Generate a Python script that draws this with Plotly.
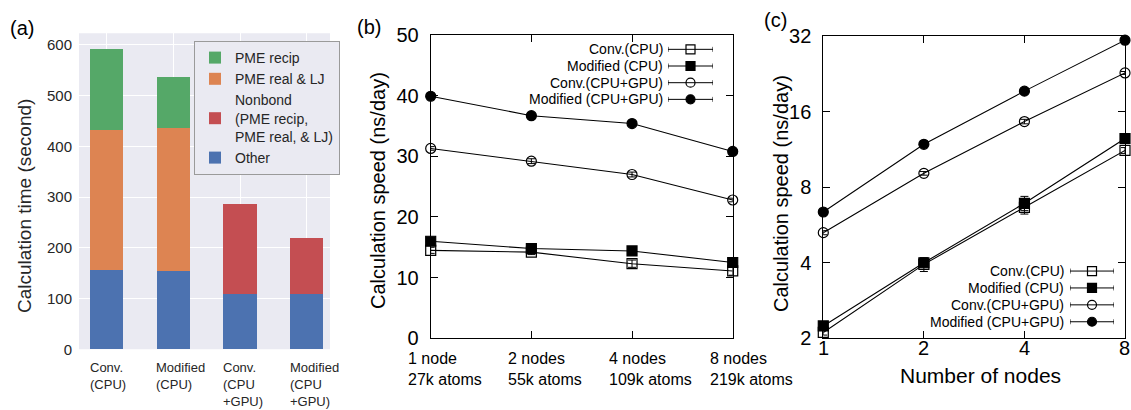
import math
import plotly.graph_objects as go

W, H = 1131, 410

# ---------------- data ----------------
# panel (a)
cat_a = ["Conv.<br>(CPU)", "Modified<br>(CPU)", "Conv.<br>(CPU<br>+GPU)", "Modified<br>(CPU<br>+GPU)"]
other = [156, 154, 110, 110]
pme_real_lj = [276, 283, None, None]
pme_recip = [161, 100, None, None]
nonbond = [None, None, 176, 110]

# panel (b)
cat_b = ["1 node<br>27k atoms", "2 nodes<br>55k atoms", "4 nodes<br>109k atoms", "8 nodes<br>219k atoms"]
conv_cpu_b = [14.5, 14.2, 12.3, 11.1]
mod_cpu_b = [16.0, 14.8, 14.4, 12.5]
conv_gpu_b = [31.3, 29.2, 27.0, 22.8]
mod_gpu_b = [39.9, 36.7, 35.4, 30.8]
err_conv_cpu_b = [0.5, 0.4, 0.6, 0.7]
err_mod_cpu_b = [0.3, 0.3, 0.3, 0.3]
err_conv_gpu_b = [0.3, 0.4, 0.4, 0.3]
err_mod_gpu_b = [0.2, 0.2, 0.2, 0.2]

# panel (c)
nodes = [1, 2, 4, 8]
conv_cpu_c = [2.11, 3.94, 6.65, 11.2]
mod_cpu_c = [2.24, 4.0, 6.9, 12.5]
conv_gpu_c = [5.27, 9.08, 14.6, 22.8]
mod_gpu_c = [6.37, 11.85, 19.3, 30.8]
err_conv_cpu_c = [0.05, 0.25, 0.4, 0.3]
err_mod_cpu_c = [0.05, 0.15, 0.45, 0.3]
err_conv_gpu_c = [0.1, 0.15, 0.3, 0.3]
err_mod_gpu_c = [0.1, 0.1, 0.2, 0.3]
yticks_c = [2, 4, 8, 16, 32]

series_names = ["Conv.(CPU)", "Modified (CPU)", "Conv.(CPU+GPU)", "Modified (CPU+GPU)"]
symbols = ["square-open", "square", "circle-open", "circle"]

C_BLUE, C_ORANGE, C_GREEN, C_RED = "#4c72b0", "#dd8452", "#55a868", "#c44e52"
TXT = "#262626"
SANS = "Liberation Sans, Arial, sans-serif"


def px_x(p):
    return p / W


def px_y(p):
    return 1 - p / H


fig = go.Figure()

# ---------------- panel (a) stacked bars ----------------
xa = list(range(len(cat_a)))
bar_specs = [
    ("Other", other, C_BLUE, 4),
    ("PME real & LJ", pme_real_lj, C_ORANGE, 2),
    ("Nonbond<br>(PME recip,<br>PME real, & LJ)", nonbond, C_RED, 3),
    ("PME recip", pme_recip, C_GREEN, 1),
]
for name, vals, col, rank in bar_specs:
    fig.add_trace(go.Bar(
        x=xa, y=vals, name=name, marker=dict(color=col, line=dict(width=0)),
        width=0.5, xaxis="x", yaxis="y", legendrank=rank, showlegend=True,
    ))

# ---------------- panel (b) ----------------
xb = list(range(len(cat_b)))
b_series = [(conv_cpu_b, err_conv_cpu_b), (mod_cpu_b, err_mod_cpu_b),
            (conv_gpu_b, err_conv_gpu_b), (mod_gpu_b, err_mod_gpu_b)]
for (vals, err), sym, name in zip(b_series, symbols, series_names):
    fig.add_trace(go.Scatter(
        x=xb, y=vals, name=name, mode="lines+markers", xaxis="x2", yaxis="y2",
        line=dict(color="black", width=1.1),
        marker=dict(symbol=sym, size=10, color="black", line=dict(color="black", width=1.2)),
        error_y=dict(type="data", array=err, color="black", thickness=1, width=4),
        cliponaxis=False, showlegend=False,
    ))

# ---------------- panel (c) ----------------
c_series = [(conv_cpu_c, err_conv_cpu_c), (mod_cpu_c, err_mod_cpu_c),
            (conv_gpu_c, err_conv_gpu_c), (mod_gpu_c, err_mod_gpu_c)]
for (vals, err), sym, name in zip(c_series, symbols, series_names):
    fig.add_trace(go.Scatter(
        x=nodes, y=vals, name=name, mode="lines+markers", xaxis="x3", yaxis="y3",
        line=dict(color="black", width=1.1),
        marker=dict(symbol=sym, size=10, color="black", line=dict(color="black", width=1.2)),
        error_y=dict(type="data", array=err, color="black", thickness=1, width=4),
        cliponaxis=False, showlegend=False,
    ))

# ---------------- gnuplot-style keys for (b) and (c) ----------------
legend_rows = list(range(len(series_names)))
for xax, yax in [("x4", "y4"), ("x5", "y5")]:
    for i in legend_rows:
        fig.add_trace(go.Scatter(
            x=[0.5], y=[i], mode="markers", xaxis=xax, yaxis=yax,
            marker=dict(symbol=symbols[i], size=9, color="black",
                        line=dict(color="black", width=1.2)),
            error_x=dict(type="data", array=[0.5], color="black", thickness=1, width=2.5),
            cliponaxis=False, showlegend=False, hoverinfo="skip",
        ))

hidden = dict(visible=False, fixedrange=True)
box_common = dict(showline=True, linecolor="black", linewidth=1, mirror="ticks",
                  ticks="inside", ticklen=7, tickcolor="black", showgrid=False,
                  zeroline=False, automargin=False,
                  tickfont=dict(family=SANS, size=20, color="black"))

fig.update_layout(
    width=W, height=H, margin=dict(l=0, r=0, t=0, b=0, pad=0, autoexpand=False), autosize=False,
    paper_bgcolor="white", plot_bgcolor="white",
    barmode="stack",
    showlegend=True,
    legend=dict(
        x=px_x(194), y=px_y(41), xanchor="left", yanchor="top",
        bgcolor="#eaeaf2", bordercolor="#9a9a9a", borderwidth=1,
        font=dict(family=SANS, size=14, color=TXT), tracegroupgap=0,
        itemwidth=30, traceorder="normal", itemclick=False, itemdoubleclick=False,
    ),
    # (a)
    xaxis=dict(domain=[px_x(79), px_x(330)], range=[-0.415, 3.35], anchor="y",
               tickvals=xa, showticklabels=False, showgrid=True, gridcolor="white",
               gridwidth=1, zeroline=False, showline=False, ticks="", automargin=False),
    yaxis=dict(domain=[px_y(349.3), px_y(33.3)], range=[0, 623], anchor="x",
               tickvals=[0, 100, 200, 300, 400, 500, 600], showgrid=True,
               gridcolor="white", gridwidth=1, zeroline=False, showline=False, ticks="",
               ticklabelstandoff=6, automargin=False,
               tickfont=dict(family=SANS, size=15, color=TXT)),
    # (b)
    xaxis2=dict(domain=[px_x(430.7), px_x(732.7)], range=[0, 3], anchor="y2",
                tickvals=xb, showticklabels=False, **box_common),
    yaxis2=dict(domain=[px_y(338.3), px_y(35)], range=[0, 50], anchor="x2",
                tickvals=[0, 10, 20, 30, 40, 50], ticklabelstandoff=7, **box_common),
    # (c)
    xaxis3=dict(domain=[px_x(823.3), px_x(1125)], type="log", range=[0, math.log10(8)],
                anchor="y3", tickvals=nodes, showticklabels=False, **box_common),
    yaxis3=dict(domain=[px_y(338.3), px_y(36)], type="log",
                range=[math.log10(2), math.log10(32)], anchor="x3", tickvals=yticks_c,
                ticktext=[str(v) for v in yticks_c], ticklabelstandoff=7, **box_common),
    # key axes (b)
    xaxis4=dict(domain=[px_x(668), px_x(713)], range=[0, 1], anchor="y4", **hidden),
    yaxis4=dict(domain=[px_y(107.7), px_y(41)], range=[3.5, -0.5], anchor="x4", **hidden),
    # key axes (c)
    xaxis5=dict(domain=[px_x(1070), px_x(1114)], range=[0, 1], anchor="y5", **hidden),
    yaxis5=dict(domain=[px_y(330.2), px_y(262.6)], range=[3.5, -0.5], anchor="x5", **hidden),
    shapes=[dict(type="rect", xref="x domain", yref="y domain", x0=0, x1=1, y0=0, y1=1,
                 fillcolor="#eaeaf2", line=dict(width=0), layer="below")],
)

ann = []
# panel labels
for lab, x0, y0 in [("(a)", 8, 28), ("(b)", 355, 27), ("(c)", 762, 20)]:
    ann.append(dict(text=lab, x=px_x(x0), y=px_y(y0), xref="paper", yref="paper",
                    xanchor="left", yanchor="middle", showarrow=False,
                    font=dict(family=SANS, size=20, color="black")))
# axis titles
ann.append(dict(text="Calculation time (second)", x=px_x(24), y=px_y(206), xref="paper",
                yref="paper", textangle=-90, showarrow=False, xanchor="center", yanchor="middle",
                font=dict(family=SANS, size=19, color=TXT)))
ann.append(dict(text="Calculation speed (ns/day)", x=px_x(378), y=px_y(191), xref="paper",
                yref="paper", textangle=-90, showarrow=False, xanchor="center", yanchor="middle",
                font=dict(family=SANS, size=20, color="black")))
ann.append(dict(text="Calculation speed (ns/day)", x=px_x(781), y=px_y(194), xref="paper",
                yref="paper", textangle=-90, showarrow=False, xanchor="center", yanchor="middle",
                font=dict(family=SANS, size=20, color="black")))
ann.append(dict(text="Number of nodes", x=px_x(980), y=px_y(375), xref="paper",
                yref="paper", showarrow=False, xanchor="center", yanchor="middle",
                font=dict(family=SANS, size=21, color="black")))
# category labels (a)
for i, t in enumerate(cat_a):
    ann.append(dict(text=t, x=xa[i], xref="x", y=px_y(358), yref="paper", xanchor="left",
                    yanchor="top", align="left", xshift=-19, showarrow=False,
                    font=dict(family=SANS, size=13, color=TXT)))
# category labels (b)
for i, t in enumerate(cat_b):
    ann.append(dict(text=t, x=xb[i], xref="x2", y=px_y(348), yref="paper", xanchor="left",
                    yanchor="top", align="left", xshift=-25, showarrow=False,
                    font=dict(family=SANS, size=16, color="black")))
# x tick labels (c) (log axis -> annotation x in log10 units)
for n in nodes:
    ann.append(dict(text=str(n), x=math.log10(n), xref="x3", y=px_y(348), yref="paper",
                    xanchor="center", yanchor="middle", showarrow=False,
                    font=dict(family=SANS, size=20, color="black")))
# key texts (b) and (c)
rows_b = [49.3, 66.0, 82.7, 99.3]
rows_c = [271.0, 287.8, 304.5, 321.7]
for i, name in enumerate(series_names):
    ann.append(dict(text=name, x=px_x(665), y=px_y(rows_b[i]), xref="paper", yref="paper",
                    xanchor="right", yanchor="middle", showarrow=False,
                    font=dict(family=SANS, size=14, color="black")))
    ann.append(dict(text=name, x=px_x(1066), y=px_y(rows_c[i]), xref="paper", yref="paper",
                    xanchor="right", yanchor="middle", showarrow=False,
                    font=dict(family=SANS, size=14, color="black")))

fig.update_layout(annotations=ann)
fig.write_html("out.html")
